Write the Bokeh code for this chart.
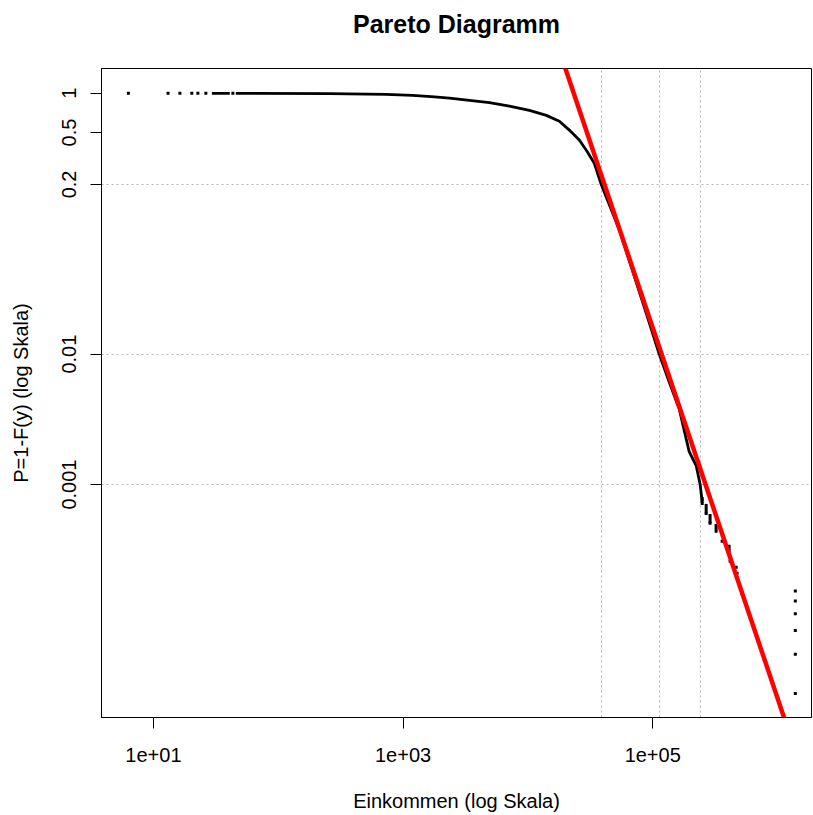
import numpy as np
from bokeh.plotting import figure
from bokeh.models import FixedTicker, Range1d, Title
from bokeh.embed import file_html
from bokeh.resources import INLINE

# ---- data ----
title_text = "Pareto Diagramm"
x_label = "Einkommen (log Skala)"
y_label = "P=1-F(y) (log Skala)"

x_ticks = [10, 1000, 100000]
x_tick_labels = ["1e+01", "1e+03", "1e+05"]
y_ticks = [0.001, 0.01, 0.2, 0.5, 1.0]
y_tick_labels = ["0.001", "0.01", "0.2", "0.5", "1"]

# quantile guide lines (income at P = 0.2, 0.01, 0.001)
grid_income = [38700, 112700, 239900]
grid_p = [0.2, 0.01, 0.001]

# isolated low-income observations (P ~ 1)
lone_income = [6.3, 13.1, 16.3, 20.3, 22.7, 26.3, 43.3]
lone_p = [1.0, 1.0, 1.0, 1.0, 1.0, 1.0, 1.0]

# short dense run
seg_income = [29.4, 40.9]
seg_p = [1.0, 1.0]

# dense part of the empirical survival curve
curve_income = [45.7, 258, 724, 1191, 1786, 2355, 3404, 4920, 7112, 10280,
                14060, 17870, 21480, 25820, 29920, 34040, 38700, 53950,
                90360, 112700, 135500, 163000, 195900, 222800, 239900, 248900]
curve_p = [1.0, 0.995, 0.981, 0.964, 0.939, 0.919, 0.883, 0.848, 0.798, 0.739,
           0.677, 0.611, 0.522, 0.438, 0.356, 0.290, 0.200, 0.0900,
           0.0195, 0.0100, 0.00611, 0.00380, 0.00179, 0.00140, 0.00100, 0.000741]

# sparse upper tail
tail_income = [249000, 249000, 249000,
               268000, 268000, 268000, 268000,
               288000, 288000, 288000, 288000,
               322000, 322000, 322000,
               360000,
               409000, 409000, 409000,
               417000, 466000, 474000,
               1388000, 1388000, 1388000, 1388000, 1388000, 1388000]
tail_p = [7.82e-4, 7.48e-4, 7.16e-4,
          6.92e-4, 6.56e-4, 6.22e-4, 6.01e-4,
          5.79e-4, 5.50e-4, 5.22e-4, 5.04e-4,
          4.86e-4, 4.61e-4, 4.38e-4,
          3.67e-4,
          3.36e-4, 3.22e-4, 3.08e-4,
          2.58e-4, 2.32e-4, 2.09e-4,
          1.53e-4, 1.28e-4, 1.02e-4, 7.6e-5, 5.0e-5, 2.5e-5]

# fitted Pareto line in log10-log10 coordinates: log10(P) = a - alpha*log10(y)
fit_intercept = 12.406
fit_alpha = 2.8407

FONT = "Liberation Sans"

p = figure(width=812, height=814, x_axis_type="log", y_axis_type="log",
           x_range=Range1d(10 ** 0.584, 10 ** 6.272),
           y_range=Range1d(10 ** -4.786, 10 ** 0.19),
           output_backend="svg", toolbar_location=None,
           min_border_left=101, min_border_right=1,
           min_border_top=68, min_border_bottom=94)

p.background_fill_color = "white"
p.border_fill_color = "white"
p.outline_line_color = "black"
p.outline_line_width = 1

# title: an empty spacer panel next to the frame, the real title above it
p.title.text = ""
spacer = Title(text=" ", text_font=FONT, text_font_size="10px", standoff=16)
p.add_layout(spacer, "above")
main_title = Title(text=title_text, align="center", vertical_align="top",
                   text_font=FONT, text_font_size="25px", text_font_style="bold",
                   text_color="black", standoff=0)
p.add_layout(main_title, "above")

# grid as dotted quantile guides
p.xgrid.ticker = FixedTicker(ticks=grid_income)
p.ygrid.ticker = FixedTicker(ticks=grid_p)
for g in (p.xgrid, p.ygrid):
    g.grid_line_color = "#b4b4b4"
    g.grid_line_dash = "2 3"
    g.grid_line_width = 1

# axes
p.xaxis.ticker = FixedTicker(ticks=x_ticks)
p.xaxis.major_label_overrides = {t: l for t, l in zip(x_ticks, x_tick_labels)}
p.yaxis.ticker = FixedTicker(ticks=y_ticks)
p.yaxis.major_label_overrides = {t: l for t, l in zip(y_ticks, y_tick_labels)}
p.yaxis.major_label_orientation = "vertical"
for ax in (p.xaxis, p.yaxis):
    ax.minor_tick_line_color = None
    ax.major_tick_in = 0
    ax.major_tick_out = 11
    ax.major_tick_line_color = "black"
    ax.axis_line_color = "black"
    ax.major_label_text_font = FONT
    ax.major_label_text_font_size = "20px"
    ax.major_label_text_color = "black"
    ax.axis_label_text_font = FONT
    ax.axis_label_text_font_size = "20px"
    ax.axis_label_text_font_style = "normal"
    ax.axis_label_text_color = "black"
p.xaxis.axis_label = x_label
p.yaxis.axis_label = y_label
p.xaxis.major_label_standoff = 19
p.xaxis.axis_label_standoff = 25
p.yaxis.major_label_standoff = 14
p.yaxis.axis_label_standoff = 28

# empirical survival curve
p.line(curve_income, curve_p, line_color="black", line_width=2.8)
p.line(seg_income, seg_p, line_color="black", line_width=2.8)
p.scatter(lone_income, lone_p, marker="square", size=3, line_color=None, fill_color="black")
p.scatter(tail_income, tail_p, marker="square", size=3, line_color=None, fill_color="black")

# Pareto fit line
fit_x = np.array([1.0, 1e7])
fit_y = 10 ** (fit_intercept - fit_alpha * np.log10(fit_x))
p.line(fit_x, fit_y, line_color="#ff0000", line_width=4.5)

open("out.html", "w").write(file_html(p, INLINE))
